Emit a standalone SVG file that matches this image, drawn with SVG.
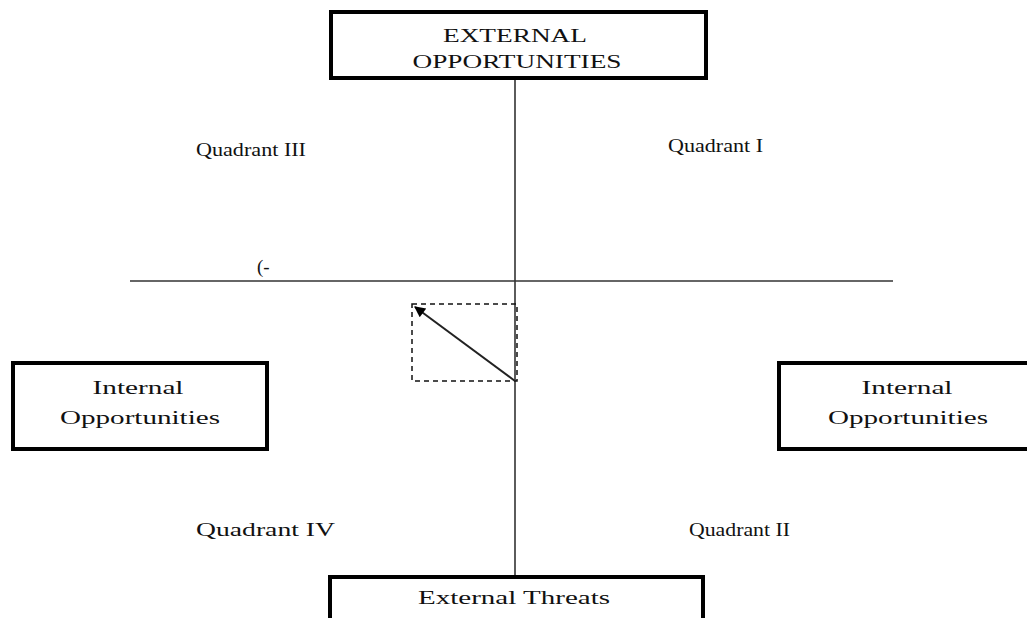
<svg xmlns="http://www.w3.org/2000/svg" width="1027" height="618" viewBox="0 0 1027 618">
<defs>
<style>
.box{fill:#fff;stroke:#000;stroke-width:4}
.t{font-family:"Liberation Serif","Times New Roman",serif;font-size:19px;fill:#111;text-anchor:middle}
.q{font-family:"Liberation Serif","Times New Roman",serif;font-size:19px;fill:#111}
.axis{stroke:#333;stroke-width:1.6;fill:none}
</style>
<marker id="ah" viewBox="0 0 10 10" refX="9" refY="5" markerWidth="13" markerHeight="11" orient="auto" markerUnits="userSpaceOnUse">
<path d="M0,0 L10,5 L0,10 z" fill="#000"/>
</marker>
</defs>
<rect width="1027" height="618" fill="#fff"/>
<g id="connectors">
<line class="axis" x1="515" y1="80" x2="515" y2="575"/>
<line class="axis" x1="130" y1="281" x2="893" y2="281"/>
<rect x="412" y="304" width="105" height="77" fill="none" stroke="#111" stroke-width="1.5" stroke-dasharray="5,4"/>
<line x1="515" y1="381" x2="415" y2="307" stroke="#222" stroke-width="2" marker-end="url(#ah)"/>
</g>
<g id="ext-opp">
<rect class="box" x="331" y="12" width="375" height="66"/>
<text class="t" x="515" y="42" textLength="144" lengthAdjust="spacingAndGlyphs">EXTERNAL</text>
<text class="t" x="517" y="68" textLength="209" lengthAdjust="spacingAndGlyphs">OPPORTUNITIES</text>
</g>
<g id="int-opp-left">
<rect class="box" x="13" y="363" width="254" height="86"/>
<text class="t" x="138" y="394" textLength="91" lengthAdjust="spacingAndGlyphs">Internal</text>
<text class="t" x="140" y="424" textLength="160" lengthAdjust="spacingAndGlyphs">Opportunities</text>
</g>
<g id="int-opp-right">
<rect class="box" x="779" y="363" width="260" height="86"/>
<text class="t" x="907" y="394" textLength="91" lengthAdjust="spacingAndGlyphs">Internal</text>
<text class="t" x="908" y="424" textLength="160" lengthAdjust="spacingAndGlyphs">Opportunities</text>
</g>
<g id="ext-threats">
<rect class="box" x="330" y="577" width="373" height="60"/>
<text class="t" x="514" y="604" textLength="192" lengthAdjust="spacingAndGlyphs">External Threats</text>
</g>
<g id="labels">
<text class="q" x="196" y="156" textLength="110" lengthAdjust="spacingAndGlyphs">Quadrant III</text>
<text class="q" x="668" y="152" textLength="95" lengthAdjust="spacingAndGlyphs">Quadrant I</text>
<text class="q" x="196" y="536" textLength="139" lengthAdjust="spacingAndGlyphs">Quadrant IV</text>
<text class="q" x="689" y="536" textLength="101" lengthAdjust="spacingAndGlyphs">Quadrant II</text>
<text class="q" x="257" y="273">(-</text>
</g>
</svg>
